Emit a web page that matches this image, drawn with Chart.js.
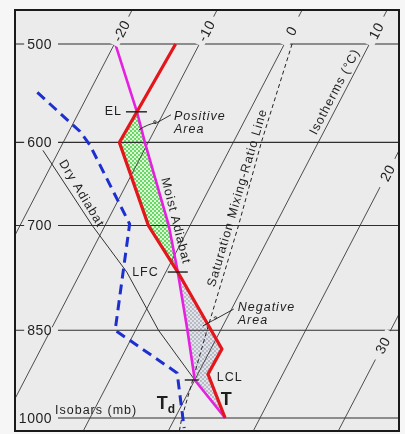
<!DOCTYPE html>
<html>
<head>
<meta charset="utf-8">
<script src="https://cdn.jsdelivr.net/npm/chart.js@4.4.1/dist/chart.umd.min.js"></script>
<style>
  html, body { margin: 0; padding: 0; background: #f6f6f6; }
  #wrap { width: 405px; height: 434px; position: relative; }
</style>
</head>
<body>
<div id="wrap"><canvas id="skewt"></canvas></div>
<script>
// ---- Sounding data: pressure (mb) and temperature (°C) ----
const isobars   = [500, 600, 700, 850, 1000];
const isotherms = [-20, -10, 0, 10, 20, 30];

// Environmental temperature T
const envPressure = [1000, 922, 880, 763, 700, 600, 567, 500];
const envTemp     = [15.9, 11.2, 11.3, 1.4, -4.9, -13.4, -13.2, -12.8];

// Lifted parcel: dry adiabat to the LCL, then moist adiabat
const parcelPressure = [1000, 932, 850, 763, 700, 600, 567, 500];
const parcelTemp     = [15.9, 10.0, 6.1, 1.4, -2.5, -10.4, -13.2, -19.9];

// Dew point Td
const dewPressure = [547, 588, 603, 698, 850, 920, 1019];
const dewTemp     = [-26.1, -18.7, -16.7, -7.2, -2.4, 7.5, 11.7];

// Saturation mixing-ratio line through the surface dew point
const mixPressure = [1024, 1000, 850, 700, 600, 500];
const mixTemp     = [11.3, 10.8, 8.4, 5.7, 3.3, 0.9];

// Reference dry adiabat ending at the LCL
const dryPressure = [609, 700, 763, 850, 932];
const dryTemp     = [-21.9, -11.5, -4.6, 2.7, 10.0];

// Key levels (mb)
const levelEL = 567, levelLFC = 763, levelLCL = 932;

// ---- Skew-T geometry ----
const SKEW = 33.0;                     // °C of skew per unit ln(1000/p)
const P_TOP = 469.5, P_BOTTOM = 1024.4;
const X_MIN = -8.82, X_MAX = 36.35;    // skewed-temperature extent
const skewX = (t, p) => t + SKEW * Math.log(1000 / p);
const pts = (temps, press) => temps.map((t, i) => ({ x: skewX(t, press[i]), y: press[i] }));

function tempAt(temps, press, p) {
  for (let i = 0; i < press.length - 1; i++) {
    const a = press[i], b = press[i + 1];
    if ((p - a) * (p - b) <= 0) {
      const f = Math.log(p / a) / Math.log(b / a);
      return temps[i] + f * (temps[i + 1] - temps[i]);
    }
  }
  return temps[temps.length - 1];
}

// Closed outlines between environment and parcel
function areaOutline(pLow, pHigh) {
  const env = [], par = [];
  envPressure.forEach((p, i) => { if (p >= pLow && p <= pHigh) env.push({ x: skewX(envTemp[i], p), y: p }); });
  parcelPressure.forEach((p, i) => { if (p >= pLow && p <= pHigh) par.push({ x: skewX(parcelTemp[i], p), y: p }); });
  return env.concat(par.reverse());
}

function dotPattern(bg, dot, r) {
  const c = document.createElement('canvas');
  c.width = 4; c.height = 4;
  const g = c.getContext('2d');
  g.fillStyle = bg; g.fillRect(0, 0, 4, 4);
  g.fillStyle = dot;
  [[1, 1], [3, 3]].forEach(([x, y]) => { g.beginPath(); g.arc(x, y, r, 0, Math.PI * 2); g.fill(); });
  return g.createPattern(c, 'repeat');
}

const BG_IN = '#ebebeb';
const INK = '#1e1e1e';
const greenDots = dotPattern('#dcf7d4', '#36cc36', 0.95);
const grayDots = dotPattern('#e3e4e9', '#a3a9b8', 0.95);

const line = (data, color, width, extra = {}) => Object.assign({
  data, borderColor: color, borderWidth: width, showLine: true, pointRadius: 0,
  pointHoverRadius: 0, fill: false, tension: 0, clip: 0
}, extra);

const datasets = [
  line(pts(envTemp, envPressure), '#e3161c', 3.2),
  line(pts(parcelTemp, parcelPressure), '#e620e0', 2.6),
  line(pts(dewTemp, dewPressure), '#1d2fcf', 3, { borderDash: [10, 6] }),
  line(pts(mixTemp, mixPressure), '#222', 1, { borderDash: [4, 3] }),
  line(pts(dryTemp, dryPressure), '#333', 1),
  ...isotherms.map(t => line([{ x: skewX(t, P_BOTTOM), y: P_BOTTOM }, { x: skewX(t, P_TOP), y: P_TOP }], '#3a3a3a', 0.9)),
  ...isobars.map(p => line([{ x: X_MIN, y: p }, { x: X_MAX, y: p }], '#2e2e2e', 1.1)),
  { data: areaOutline(levelEL, levelLFC), showLine: false, pointRadius: 0, areaFill: greenDots },
  { data: areaOutline(levelLFC, 1000), showLine: false, pointRadius: 0, areaFill: grayDots }
];

// ---- drawing helpers ----
function setFont(ctx, size, o = {}) {
  ctx.font = `${o.italic ? 'italic ' : ''}${o.bold ? 'bold ' : ''}${size}px "Liberation Sans", Arial, sans-serif`;
  ctx.letterSpacing = (o.spacing === undefined ? 1 : o.spacing) + 'px';
}

const backgroundPlugin = {
  id: 'plotBackground',
  beforeDraw(chart) {
    const { ctx, chartArea: a } = chart;
    ctx.save();
    ctx.fillStyle = BG_IN;
    ctx.fillRect(a.left, a.top, a.width, a.height);
    ctx.restore();
  }
};

const areaPlugin = {
  id: 'cape',
  beforeDatasetsDraw(chart) {
    const { ctx, chartArea: a } = chart;
    ctx.save();
    ctx.beginPath(); ctx.rect(a.left, a.top, a.width, a.height); ctx.clip();
    chart.data.datasets.forEach((ds, i) => {
      if (!ds.areaFill) return;
      const meta = chart.getDatasetMeta(i);
      ctx.beginPath();
      meta.data.forEach((pt, j) => j ? ctx.lineTo(pt.x, pt.y) : ctx.moveTo(pt.x, pt.y));
      ctx.closePath();
      ctx.fillStyle = ds.areaFill;
      ctx.fill();
    });
    ctx.restore();
  }
};

const annotationPlugin = {
  id: 'skewtText',
  afterDatasetsDraw(chart) {
    const { ctx, chartArea: a } = chart;
    const xs = chart.scales.x, ys = chart.scales.y;
    const P = (t, p) => ({ x: xs.getPixelForValue(skewX(t, p)), y: ys.getPixelForValue(p) });
    const onCurve = (temps, press, p) => P(tempAt(temps, press, p), p);
    const angleOf = (A, B) => Math.atan2(B.y - A.y, B.x - A.x);

    ctx.save();
    ctx.beginPath(); ctx.rect(a.left, a.top, a.width, a.height); ctx.clip();

    // Isobar labels
    isobars.forEach(p => {
      const y = ys.getPixelForValue(p);
      setFont(ctx, 14, { spacing: 0.5 });
      const txt = String(p);
      const w = ctx.measureText(txt).width;
      const right = a.left + 37;
      ctx.fillStyle = BG_IN;
      ctx.fillRect(right - w - 3, y - 3, w + 9, 6);
      ctx.fillStyle = INK; ctx.textAlign = 'right'; ctx.textBaseline = 'middle';
      ctx.fillText(txt, right, y + 1);
    });
    setFont(ctx, 12.5);
    ctx.fillStyle = INK; ctx.textAlign = 'left'; ctx.textBaseline = 'alphabetic';
    ctx.fillText('Isobars (mb)', a.left + 40, ys.getPixelForValue(1000) - 4);

    // Isotherm labels, rotated along each line
    const isoLabelAt = { '-20': 488, '-10': 488, '0': 488, '10': 488, '20': 635, '30': 874 };
    isotherms.forEach(t => {
      const p = isoLabelAt[String(t)];
      const c = P(t, p);
      const ang = angleOf(P(t, P_BOTTOM), P(t, P_TOP));
      ctx.save();
      ctx.translate(c.x, c.y); ctx.rotate(ang);
      ctx.fillStyle = BG_IN;
      ctx.fillRect(-16, -5, 32, 10);
      setFont(ctx, 14, { spacing: 0.5 });
      ctx.fillStyle = INK; ctx.textAlign = 'center'; ctx.textBaseline = 'middle';
      ctx.fillText(String(t), 0, 1);
      ctx.restore();
    });

    // Text running along lines
    const along = (txt, c, ang) => {
      ctx.save();
      ctx.translate(c.x, c.y); ctx.rotate(ang);
      setFont(ctx, 12.5);
      ctx.fillStyle = INK; ctx.textAlign = 'center'; ctx.textBaseline = 'middle';
      ctx.fillText(txt, 0, 0);
      ctx.restore();
    };
    {
      const c = onCurve(parcelTemp, parcelPressure, 694);
      along('Moist Adiabat', { x: c.x + 8, y: c.y },
        angleOf(onCurve(parcelTemp, parcelPressure, 600), onCurve(parcelTemp, parcelPressure, 763)));
    }
    {
      const c = onCurve(dryTemp, dryPressure, 660);
      along('Dry Adiabat', { x: c.x + 10, y: c.y },
        angleOf(onCurve(dryTemp, dryPressure, 609), onCurve(dryTemp, dryPressure, 850)) + 0.03);
    }
    {
      const c = onCurve(mixTemp, mixPressure, 665);
      along('Saturation Mixing-Ratio Line', { x: c.x - 8.5, y: c.y },
        angleOf(onCurve(mixTemp, mixPressure, 1000), onCurve(mixTemp, mixPressure, 500)));
    }
    {
      const c = P(10, 546.5);
      along('Isotherms (°C)', { x: c.x - 9.5, y: c.y }, angleOf(P(10, P_BOTTOM), P(10, P_TOP)));
    }

    // Level marks
    const tick = (pt, l, r) => {
      ctx.strokeStyle = INK; ctx.lineWidth = 1.4;
      ctx.beginPath(); ctx.moveTo(pt.x + l, pt.y); ctx.lineTo(pt.x + r, pt.y); ctx.stroke();
    };
    const el = onCurve(parcelTemp, parcelPressure, levelEL);
    const lfc = onCurve(parcelTemp, parcelPressure, levelLFC);
    const lcl = onCurve(parcelTemp, parcelPressure, levelLCL);
    tick(el, -11, 10); tick(lfc, -10, 10); tick(lcl, -10, 4);
    setFont(ctx, 12.5);
    ctx.fillStyle = INK; ctx.textBaseline = 'middle';
    ctx.textAlign = 'right';
    ctx.fillText('EL', el.x - 15, el.y);
    ctx.fillText('LFC', lfc.x - 19, lfc.y + 1);
    ctx.textAlign = 'left';
    ctx.fillText('LCL', lcl.x + 22, lcl.y - 2);

    // T and Td
    const sfcT = P(envTemp[0], envPressure[0]);
    const sfcTd = onCurve(dewTemp, dewPressure, 1000);
    setFont(ctx, 18, { bold: true, spacing: 0 });
    ctx.textBaseline = 'alphabetic';
    ctx.textAlign = 'center';
    ctx.fillText('T', sfcT.x + 1, sfcT.y - 13);
    ctx.textAlign = 'left';
    ctx.fillText('T', sfcTd.x - 26, sfcTd.y - 9);
    setFont(ctx, 12, { bold: true, spacing: 0 });
    ctx.fillText('d', sfcTd.x - 15, sfcTd.y - 5);

    // Area labels with leaders
    setFont(ctx, 12.5, { italic: true });
    ctx.textAlign = 'left';
    ctx.fillText('Positive', el.x + 37, el.y + 8);
    ctx.fillText('Area', el.x + 37, el.y + 21);
    ctx.fillText('Negative', lfc.x + 60, lfc.y + 39);
    ctx.fillText('Area', lfc.x + 60, lfc.y + 52);

    const leader = (o, d) => {
      ctx.strokeStyle = INK; ctx.lineWidth = 0.9;
      ctx.beginPath();
      ctx.moveTo(o.x + d[0][0], o.y + d[0][1]);
      ctx.bezierCurveTo(o.x + d[1][0], o.y + d[1][1], o.x + d[2][0], o.y + d[2][1], o.x + d[3][0], o.y + d[3][1]);
      ctx.bezierCurveTo(o.x + d[4][0], o.y + d[4][1], o.x + d[5][0], o.y + d[5][1], o.x + d[6][0], o.y + d[6][1]);
      ctx.lineTo(o.x + d[7][0], o.y + d[7][1]);
      ctx.stroke();
    };
    leader(el, [[2, 18], [8, 14], [14, 12], [18, 11], [22, 9], [14, 7], [18, 12], [34, 3]]);
    leader(lfc, [[25, 54], [30, 51], [34, 49], [38, 47], [42, 44], [33, 44], [38, 47], [56, 37]]);

    ctx.restore();

    // Frame
    ctx.save();
    ctx.strokeStyle = '#1a1a1a'; ctx.lineWidth = 2;
    ctx.strokeRect(a.left, a.top, a.width, a.height);
    ctx.restore();
  }
};

new Chart(document.getElementById('skewt'), {
  type: 'scatter',
  data: { datasets },
  options: {
    responsive: true,
    maintainAspectRatio: false,
    animation: false,
    layout: { padding: { left: 15, top: 10, right: 6, bottom: 3 } },
    plugins: { legend: { display: false }, tooltip: { enabled: false } },
    events: [],
    scales: {
      x: { type: 'linear', min: X_MIN, max: X_MAX, bounds: 'data', display: false },
      y: { type: 'logarithmic', reverse: true, min: P_TOP, max: P_BOTTOM, display: false }
    }
  },
  plugins: [backgroundPlugin, areaPlugin, annotationPlugin]
});
</script>
</body>
</html>
